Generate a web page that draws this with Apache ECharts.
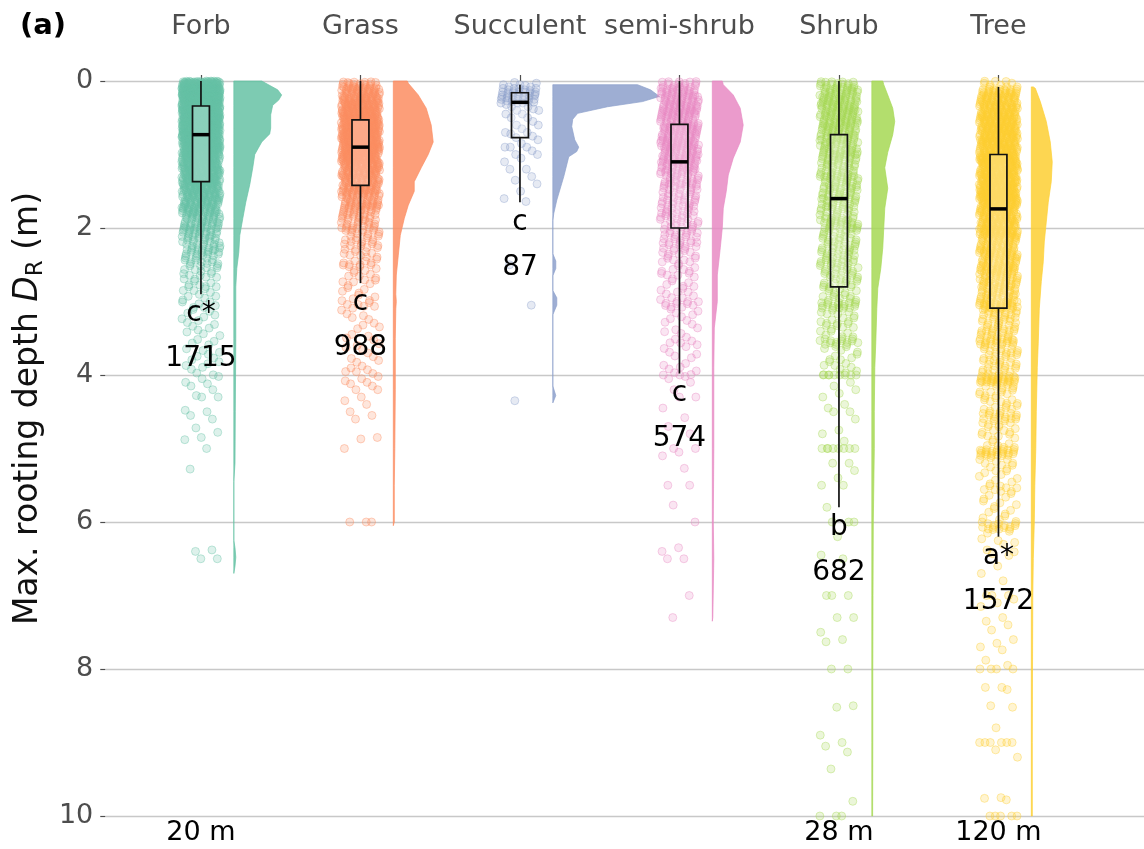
<!DOCTYPE html>
<html><head><meta charset="utf-8">
<script src="https://cdn.jsdelivr.net/npm/echarts@6/dist/echarts.min.js"></script>
<style>html,body{margin:0;padding:0;background:#fff}#c{width:1144px;height:849px}</style>
</head><body><div id="c"></div>
<script>
// ---------------- DATA ----------------
const categories = ['Forb', 'Grass', 'Succulent', 'semi-shrub', 'Shrub', 'Tree'];
const yTicks = [0, 2, 4, 6, 8, 10];

// Box statistics (m): whisker top, Q1, median, Q3, whisker bottom
const boxLow    = [0.00, 0.00, 0.05, 0.00, 0.00, 0.08];
const boxQ1     = [0.34, 0.53, 0.16, 0.59, 0.73, 1.00];
const boxMedian = [0.73, 0.90, 0.29, 1.10, 1.60, 1.74];
const boxQ3     = [1.37, 1.42, 0.77, 2.00, 2.80, 3.09];
const boxHigh   = [2.90, 2.75, 1.65, 3.98, 5.80, 6.20];

// Significance letters and sample sizes
const sigLetters = ['c*', 'c', 'c', 'c', 'b', 'a*'];
const sampleN    = [1715, 988, 87, 574, 682, 1572];
// deepest records beyond the axis
const deepestNote = ['20 m', '', '', '', '28 m', '120 m'];

// Point counts per 0.1 m depth bin (bin i = [0.1*i, 0.1*i+0.1))
const forbCounts  = [107,140,140,119,113,113,113,100,82,70,61,58,55,52,46,43,37,34,27,24,21,18,17,15,12,9,8,6,5,5,6,4,4,4,3,4,3,4,4,3];
const grassCounts = [26,37,46,52,57,60,64,65,65,60,54,47,41,36,34,31,26,21,18,15,13,11,10,8,7,7,5,6,4,5,6,3,3,3,3,3,2,3,3,5];
const semiCounts  = [18,24,26,28,28,22,30,28,28,26,28,22,19,17,16,14,14,13,12,12,11,10,9,8,7,6,6,5,5,5,9,4,4,3,3,5,3,3,3,4];
const shrubCounts = [20,24,26,26,26,26,24,22,20,22,19,17,17,17,18,17,15,14,14,18,13,13,12,12,14,12,11,10,8,9,18,6,7,6,6,14,5,5,5,4];
const treeCounts  = [10,30,35,40,42,44,45,46,46,46,60,50,52,52,50,65,48,40,38,40,42,30,28,28,27,30,24,23,21,20,32,14,13,12,12,22,11,10,10,10,
                     30,9,9,8,8,14,7,7,6,6,24,5,5,5,4,8,4,4,4,4,14,3,3,2,3];

// Individually read records (m)
const forbDeep  = [4.02,4.05,4.1,4.12,4.15,4.2,4.28,4.3,4.3,4.48,4.5,4.55,4.6,4.72,4.78,4.85,4.88,5.0,5.28,6.38,6.4,6.5,6.5];
const grassDeep = [4.02,4.05,4.08,4.1,4.12,4.15,4.2,4.2,4.3,4.35,4.4,4.5,4.55,4.6,4.85,4.87,5.0,6.0,6.0,6.0];
const succulentDepths = [0.02,0.03,0.05,0.05,0.06,0.08,0.08,0.1,0.1,0.1,0.1,0.12,0.12,0.13,0.14,0.15,0.15,0.15,0.15,0.16,0.16,0.16,
  0.18,0.18,0.19,0.2,0.2,0.2,0.2,0.2,0.21,0.22,0.22,0.23,0.24,0.25,0.25,0.25,0.25,0.26,0.27,0.28,0.28,0.29,
  0.3,0.3,0.3,0.32,0.35,0.35,0.38,0.4,0.4,0.45,0.45,0.5,0.5,0.55,0.6,0.6,0.65,0.7,0.7,0.72,0.75,0.77,
  0.8,0.85,0.9,0.9,0.9,0.95,1.0,1.0,1.05,1.1,1.2,1.2,1.3,1.35,1.4,1.5,1.6,1.64,2.5,3.05,4.35];
const semiDeep  = [4.0,4.0,4.02,4.05,4.1,4.2,4.3,4.3,4.45,4.58,4.7,4.8,5.0,5.0,5.05,5.1,5.27,5.5,5.5,5.77,6.0,6.35,6.4,6.5,6.5,7.0,7.3];
const shrubDeep = [4.0,4.0,4.0,4.0,4.0,4.0,4.0,4.0,4.1,4.15,4.2,4.25,4.3,4.4,4.45,4.5,4.5,4.6,4.75,4.8,4.9,5.0,5.0,5.0,5.0,5.0,5.0,5.0,5.0,
  5.2,5.2,5.3,5.4,5.5,5.5,5.8,6.0,6.0,6.0,6.2,6.45,6.5,7.0,7.0,7.0,7.3,7.3,7.5,7.6,7.63,8.0,8.0,8.5,8.52,8.9,9.0,9.05,9.13,9.36,9.8,10.0,10.0,10.0];
const treeDeep  = [6.6,6.7,6.8,7.0,7.0,7.0,7.05,7.1,7.15,7.3,7.35,7.4,7.47,7.6,7.65,7.7,7.74,7.88,7.95,8.0,8.0,8.0,8.0,8.25,8.25,8.28,8.5,8.52,8.8,
  9.0,9.0,9.0,9.0,9.0,9.0,9.1,9.2,9.75,9.76,9.78,10.0,10.0,10.0,10.0,10.0];

// Half-violin density profiles: [depth (m), relative density]
const forbViolin  = [[0,0.28],[0.03,0.32],[0.12,0.44],[0.19,0.48],[0.26,0.45],[0.33,0.39],[0.46,0.37],[0.64,0.37],[0.72,0.36],[0.83,0.28],[1.0,0.21],[1.18,0.19],[1.41,0.16],[1.65,0.12],[1.87,0.09],[2.1,0.06],[2.33,0.05],[2.55,0.03],[2.8,0.02],[3.5,0.02],[4.5,0.015],[5.2,0.012],[5.45,0],[6.25,0],[6.35,0.012],[6.48,0.02],[6.6,0.012],[6.7,0]];
const grassViolin = [[0,0.14],[0.03,0.15],[0.19,0.25],[0.37,0.33],[0.6,0.38],[0.83,0.40],[1.0,0.35],[1.18,0.28],[1.37,0.21],[1.5,0.21],[1.69,0.15],[1.87,0.11],[2.1,0.07],[2.37,0.05],[2.64,0.03],[2.9,0.025],[3.0,0.03],[3.1,0.025],[3.5,0.02],[4.2,0.02],[5.0,0.015],[5.5,0.01],[6.0,0.01],[6.05,0]];
const succulentViolin = [[0.05,0.85],[0.12,0.98],[0.21,1.07],[0.28,0.9],[0.35,0.55],[0.44,0.25],[0.52,0.2],[0.62,0.19],[0.8,0.22],[0.9,0.26],[0.96,0.24],[1.03,0.16],[1.3,0.11],[1.62,0.04],[1.8,0.01],[1.9,0],[2.35,0],[2.45,0.03],[2.55,0.03],[2.65,0],[2.85,0],[2.95,0.04],[3.05,0.04],[3.18,0],[4.15,0],[4.28,0.03],[4.38,0]];
const semiViolin  = [[0,0.1],[0.05,0.11],[0.19,0.21],[0.37,0.28],[0.6,0.31],[0.83,0.28],[1.05,0.21],[1.28,0.16],[1.5,0.14],[1.73,0.11],[2.0,0.10],[2.27,0.08],[2.64,0.05],[3.0,0.05],[3.36,0.02],[3.9,0.015],[5.0,0.015],[6.0,0.01],[6.5,0.015],[7.3,0.005],[7.35,0]];
const shrubViolin = [[0,0.11],[0.05,0.12],[0.19,0.16],[0.37,0.21],[0.55,0.23],[0.73,0.21],[0.97,0.16],[1.18,0.13],[1.46,0.16],[1.73,0.13],[2.0,0.12],[2.27,0.11],[2.55,0.09],[2.82,0.06],[3.1,0.05],[3.55,0.04],[3.9,0.03],[4.5,0.025],[5.0,0.025],[6.0,0.015],[7.0,0.012],[8.0,0.01],[9.0,0.01],[10.0,0.008]];
const treeViolin  = [[0.08,0.02],[0.1,0.04],[0.28,0.09],[0.55,0.15],[0.83,0.19],[1.1,0.21],[1.37,0.20],[1.65,0.17],[1.92,0.15],[2.19,0.13],[2.46,0.12],[2.73,0.10],[3.1,0.08],[3.55,0.07],[3.9,0.06],[4.5,0.05],[5.0,0.045],[5.5,0.035],[6.0,0.03],[6.5,0.02],[7.0,0.015],[8.0,0.012],[9.0,0.01],[10.0,0.01]];

// ---------------- STYLE / LAYOUT ----------------
const colors = ['#66C2A5', '#FC8D62', '#8DA0CB', '#E78AC3', '#A6D854', '#FDCF33'];
const FONT = '"DejaVu Sans", "Liberation Sans", sans-serif';
const JITTER = 0.24, BOX_HALF = 0.053, VIOLIN_OFFSET = 0.206, VIOLIN_SCALE = 0.625, BIN = 0.1;

const groupCounts = [forbCounts, grassCounts, null, semiCounts, shrubCounts, treeCounts];
const groupDeep = [forbDeep, grassDeep, succulentDepths, semiDeep, shrubDeep, treeDeep];
const violins = [forbViolin, grassViolin, succulentViolin, semiViolin, shrubViolin, treeViolin];

function rgba(hex, a) {
  const n = parseInt(hex.slice(1), 16);
  return 'rgba(' + (n >> 16) + ',' + ((n >> 8) & 255) + ',' + (n & 255) + ',' + a + ')';
}
function frac(v) { return v - Math.floor(v); }
const A1 = 0.7548776662466927, A2 = 0.5698402909980532; // deterministic low-discrepancy jitter

let k = 0;
const pointSeries = categories.map((cat, g) => {
  const pts = [];
  const counts = groupCounts[g];
  if (counts) counts.forEach((c, i) => {
    for (let j = 0; j < c; j++, k++) {
      pts.push([g + 1 + (frac(0.5 + k * A2) - 0.5) * JITTER, i * BIN + BIN * frac(0.5 + k * A1)]);
    }
  });
  groupDeep[g].forEach(d => { pts.push([g + 1 + (frac(0.5 + k * A2) - 0.5) * JITTER, d]); k++; });
  return {
    type: 'scatter', name: cat, data: pts, symbol: 'circle', symbolSize: 8,
    clip: false, silent: true, progressive: 0, z: 2,
    itemStyle: { color: rgba(colors[g], 0.28), borderColor: rgba(colors[g], 0.55), borderWidth: 0.9 }
  };
});

const violinSeries = categories.map((cat, g) => ({
  type: 'custom', data: [[g + 1, 0]], clip: false, silent: true, z: 2,
  renderItem: (params, api) => {
    const prof = violins[g];
    const base = g + 1 + VIOLIN_OFFSET;
    const pts = prof.map(([d, w]) => api.coord([base + w * VIOLIN_SCALE, d]));
    for (let i = prof.length - 1; i >= 0; i--) pts.push(api.coord([base, prof[i][0]]));
    return { type: 'polygon', shape: { points: pts }, style: { fill: rgba(colors[g], 0.85), stroke: rgba(colors[g], 0.85), lineWidth: 0.8 } };
  }
}));

const boxData = categories.map((c, g) => [g + 1, boxLow[g], boxQ1[g], boxMedian[g], boxQ3[g], boxHigh[g]]);
const boxSeries = {
  type: 'custom', data: boxData, clip: false, silent: true, z: 5,
  encode: { x: 0, y: [1, 2, 3, 4, 5] },
  renderItem: (params, api) => {
    const x = api.value(0);
    const pLow = api.coord([x, api.value(1)]), pQ1 = api.coord([x, api.value(2)]);
    const pMed = api.coord([x, api.value(3)]), pQ3 = api.coord([x, api.value(4)]);
    const pHigh = api.coord([x, api.value(5)]);
    const hw = api.coord([x + BOX_HALF, 0])[0] - pLow[0];
    const ls = { stroke: '#111', lineWidth: 1.7 };
    return { type: 'group', children: [
      { type: 'line', shape: { x1: pLow[0], y1: pLow[1], x2: pQ1[0], y2: pQ1[1] }, style: ls },
      { type: 'line', shape: { x1: pQ3[0], y1: pQ3[1], x2: pHigh[0], y2: pHigh[1] }, style: ls },
      { type: 'rect', shape: { x: pQ1[0] - hw, y: pQ1[1], width: 2 * hw, height: pQ3[1] - pQ1[1] }, style: { fill: 'rgba(255,255,255,0.25)', stroke: '#111', lineWidth: 1.7 } },
      { type: 'line', shape: { x1: pMed[0] - hw, y1: pMed[1], x2: pMed[0] + hw, y2: pMed[1] }, style: { stroke: '#000', lineWidth: 3.5 } }
    ] };
  }
};

const labelSeries = {
  type: 'custom', data: categories.map((c, g) => [g + 1, boxHigh[g]]), clip: false, silent: true, z: 6,
  renderItem: (params, api) => {
    const g = params.dataIndex;
    const p = api.coord([api.value(0), api.value(1)]);
    const st = { fill: '#000', fontSize: 28, fontFamily: FONT, align: 'center', verticalAlign: 'middle' };
    return { type: 'group', children: [
      { type: 'text', style: Object.assign({ text: sigLetters[g], x: p[0], y: p[1] + 20 }, st) },
      { type: 'text', style: Object.assign({ text: String(sampleN[g]), x: p[0], y: p[1] + 65 }, st) }
    ] };
  }
};

const noteSeries = {
  type: 'custom', data: categories.map((c, g) => [g + 1, 10]), clip: false, silent: true, z: 6,
  renderItem: (params, api) => {
    const g = params.dataIndex;
    if (!deepestNote[g]) return;
    const p = api.coord([api.value(0), api.value(1)]);
    return { type: 'text', style: { text: deepestNote[g], x: p[0], y: p[1] + 17, fill: '#000', fontSize: 27, fontFamily: FONT, align: 'center', verticalAlign: 'middle' } };
  }
};

const chart = echarts.init(document.getElementById('c'), null, { renderer: 'canvas' });
chart.setOption({
  animation: false,
  backgroundColor: '#fff',
  grid: { left: 102, right: 0, top: 81, bottom: 33, containLabel: false },
  xAxis: {
    type: 'value', position: 'top', min: 0.4, max: 6.9125, offset: 36,
    axisLine: { show: false }, splitLine: { show: false },
    axisTick: { show: true, customValues: [1, 2, 3, 4, 5, 6], length: 6, lineStyle: { color: '#4d4d4d', width: 1.2 } },
    axisLabel: { customValues: [1, 2, 3, 4, 5, 6], formatter: v => categories[Math.round(v) - 1] || '', margin: 5, fontSize: 27, color: '#4d4d4d', fontFamily: FONT }
  },
  yAxis: {
    type: 'value', inverse: true, min: 0, max: 10, interval: 2,
    axisLine: { show: false },
    axisTick: { show: true, length: 5, lineStyle: { color: '#4d4d4d', width: 1.2 } },
    axisLabel: { margin: 12, fontSize: 27, color: '#4d4d4d', fontFamily: FONT, formatter: v => yTicks.includes(v) ? String(v) : '' },
    splitLine: { show: true, lineStyle: { color: '#C8C8C8', width: 1.3 } },
    name: 'Max. rooting depth {d|D}{s|R} (m)', nameLocation: 'middle', nameRotate: 90, nameGap: 52,
    nameTextStyle: {
      fontSize: 33, color: '#111', fontFamily: FONT, lineHeight: 40, padding: [0, 0, 0, 80],
      rich: {
        d: { fontSize: 33, fontStyle: 'italic', color: '#111', fontFamily: FONT, lineHeight: 40 },
        s: { fontSize: 23, color: '#111', fontFamily: FONT, lineHeight: 24, verticalAlign: 'bottom' }
      }
    }
  },
  graphic: [{ type: 'text', left: 20, top: 12, style: { text: '(a)', fontSize: 29, fontWeight: 'bold', fill: '#000', fontFamily: FONT } }],
  series: [...pointSeries, ...violinSeries, boxSeries, labelSeries, noteSeries]
});
</script></body></html>
